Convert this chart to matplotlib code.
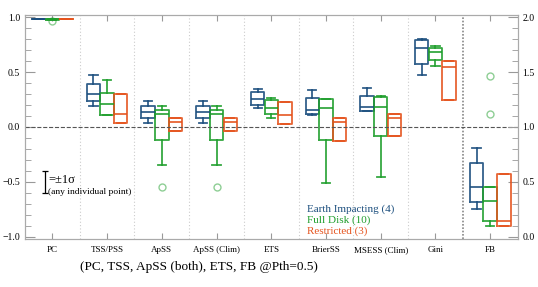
import numpy as np
import matplotlib
matplotlib.use("Agg")
import matplotlib.pyplot as plt
from matplotlib.ticker import MultipleLocator

plt.rcParams['font.family'] = ['Liberation Serif', 'DejaVu Serif']

categories = ['PC', 'TSS/PSS', 'ApSS', 'ApSS (Clim)', 'ETS', 'BrierSS', 'MSESS (Clim)', 'Gini', 'FB']

# [whislo, q1, med, q3, whishi] per category
earth_impacting = [
    [0.982, 0.982, 0.983, 0.984, 0.984],
    [0.191, 0.239, 0.297, 0.394, 0.475],
    [0.036, 0.079, 0.133, 0.188, 0.233],
    [0.036, 0.079, 0.133, 0.194, 0.233],
    [0.173, 0.200, 0.252, 0.315, 0.348],
    [0.110, 0.115, 0.155, 0.261, 0.336],
    [0.148, 0.148, 0.179, 0.285, 0.357],
    [0.470, 0.570, 0.721, 0.790, 0.803],
    [0.255, 0.315, 0.458, 0.676, 0.812],
]
full_disk = [
    [0.975, 0.978, 0.982, 0.985, 0.987],
    [0.106, 0.112, 0.212, 0.306, 0.430],
    [-0.350, -0.118, 0.115, 0.157, 0.194],
    [-0.350, -0.118, 0.115, 0.157, 0.194],
    [0.085, 0.115, 0.176, 0.242, 0.267],
    [-0.506, -0.118, 0.170, 0.252, 0.258],
    [-0.455, -0.079, 0.185, 0.276, 0.285],
    [0.557, 0.606, 0.685, 0.718, 0.739],
    [0.097, 0.140, 0.330, 0.450, 0.450],
]
full_disk_fliers = [[0.965], [], [-0.55], [-0.55], [], [], [], [], [1.467, 1.115]]
restricted = [
    [0.983, 0.983, 0.983, 0.983, 0.983],
    [0.034, 0.034, 0.115, 0.300, 0.300],
    [-0.040, -0.040, 0.043, 0.079, 0.079],
    [-0.040, -0.040, 0.043, 0.079, 0.079],
    [0.030, 0.030, 0.106, 0.230, 0.230],
    [-0.127, -0.127, 0.045, 0.085, 0.085],
    [-0.085, -0.085, 0.082, 0.115, 0.115],
    [0.245, 0.245, 0.545, 0.603, 0.603],
    [0.100, 0.100, 0.140, 0.570, 0.570],
]

series = [
    ('Earth Impacting (4)', earth_impacting, None, '#1c4f7e', -0.25),
    ('Full Disk (10)', full_disk, full_disk_fliers, '#1f9e2c', 0.0),
    ('Restricted (3)', restricted, None, '#e5531d', 0.25),
]

fig = plt.figure(figsize=(5.38, 2.87), dpi=100)
ax = fig.add_axes([0.0465, 0.167, 0.9155, 0.781])
ax2 = ax.twinx()

n = len(categories)
for name, stats, fliers, col, off in series:
    for i, s in enumerate(stats):
        d = dict(whislo=s[0], q1=s[1], med=s[2], q3=s[3], whishi=s[4],
                 fliers=fliers[i] if fliers else [])
        target = ax2 if categories[i] == 'FB' else ax
        lp = dict(color=col, linewidth=1.3, alpha=0.9)
        target.bxp([d], positions=[i + off], widths=0.245, capwidths=0.15,
                   boxprops=lp, whiskerprops=lp, capprops=lp, medianprops=lp,
                   flierprops=dict(marker='o', markerfacecolor='none',
                                   markeredgecolor=col, alpha=0.5, markersize=5),
                   manage_ticks=False)

# separators
for k in range(n - 1):
    if k == n - 2:
        ax.axvline(k + 0.5, color='#888888', linestyle=(0, (1, 1)), linewidth=1.2)
    else:
        ax.axvline(k + 0.5, color='#cccccc', linestyle=(0, (1, 2)), linewidth=0.8)
ax.axhline(0, color='#555555', linestyle='--', linewidth=0.8)

ax.set_xlim(-0.5, n - 0.5)
ax.set_ylim(-1.02, 1.02)
ax2.set_ylim(-0.02, 2.02)
ax.set_xticks(range(n))
ax.set_xticklabels(categories, fontsize=6.5)
ax.yaxis.set_major_locator(MultipleLocator(0.5))
ax.yaxis.set_minor_locator(MultipleLocator(0.1))
ax2.yaxis.set_major_locator(MultipleLocator(0.5))
ax2.yaxis.set_minor_locator(MultipleLocator(0.1))
ax.tick_params(axis='x', direction='in', top=True, color='#999999', length=4, pad=5)
ax.tick_params(axis='y', which='both', direction='in', color='#999999', labelsize=7)
ax.tick_params(axis='y', which='major', length=7)
ax.tick_params(axis='y', which='minor', length=4)
ax2.tick_params(axis='y', which='both', direction='in', color='#999999', labelsize=7)
ax2.tick_params(axis='y', which='major', length=7)
ax2.tick_params(axis='y', which='minor', length=4)
for a in (ax, ax2):
    for sp in a.spines.values():
        sp.set_color('#aaaaaa')

# legend as coloured text
for j, (name, _, _, col, _) in enumerate(series):
    ax.text(4.66, -0.745 - j * 0.1, name, color=col, fontsize=8, va='center')

# sigma key
ax.errorbar([-0.14], [-0.505], yerr=[0.1], color='black', capsize=2.5,
            linewidth=0.9, capthick=0.9)
ax.text(-0.08, -0.48, '=±1σ', fontsize=9, va='center')
ax.text(-0.08, -0.59, '(any individual point)', fontsize=6.8, va='center')

fig.text(0.149, 0.07, '(PC, TSS, ApSS (both), ETS, FB @Pth=0.5)', fontsize=9.5, va='center')

fig.savefig('out.png', dpi=100)
